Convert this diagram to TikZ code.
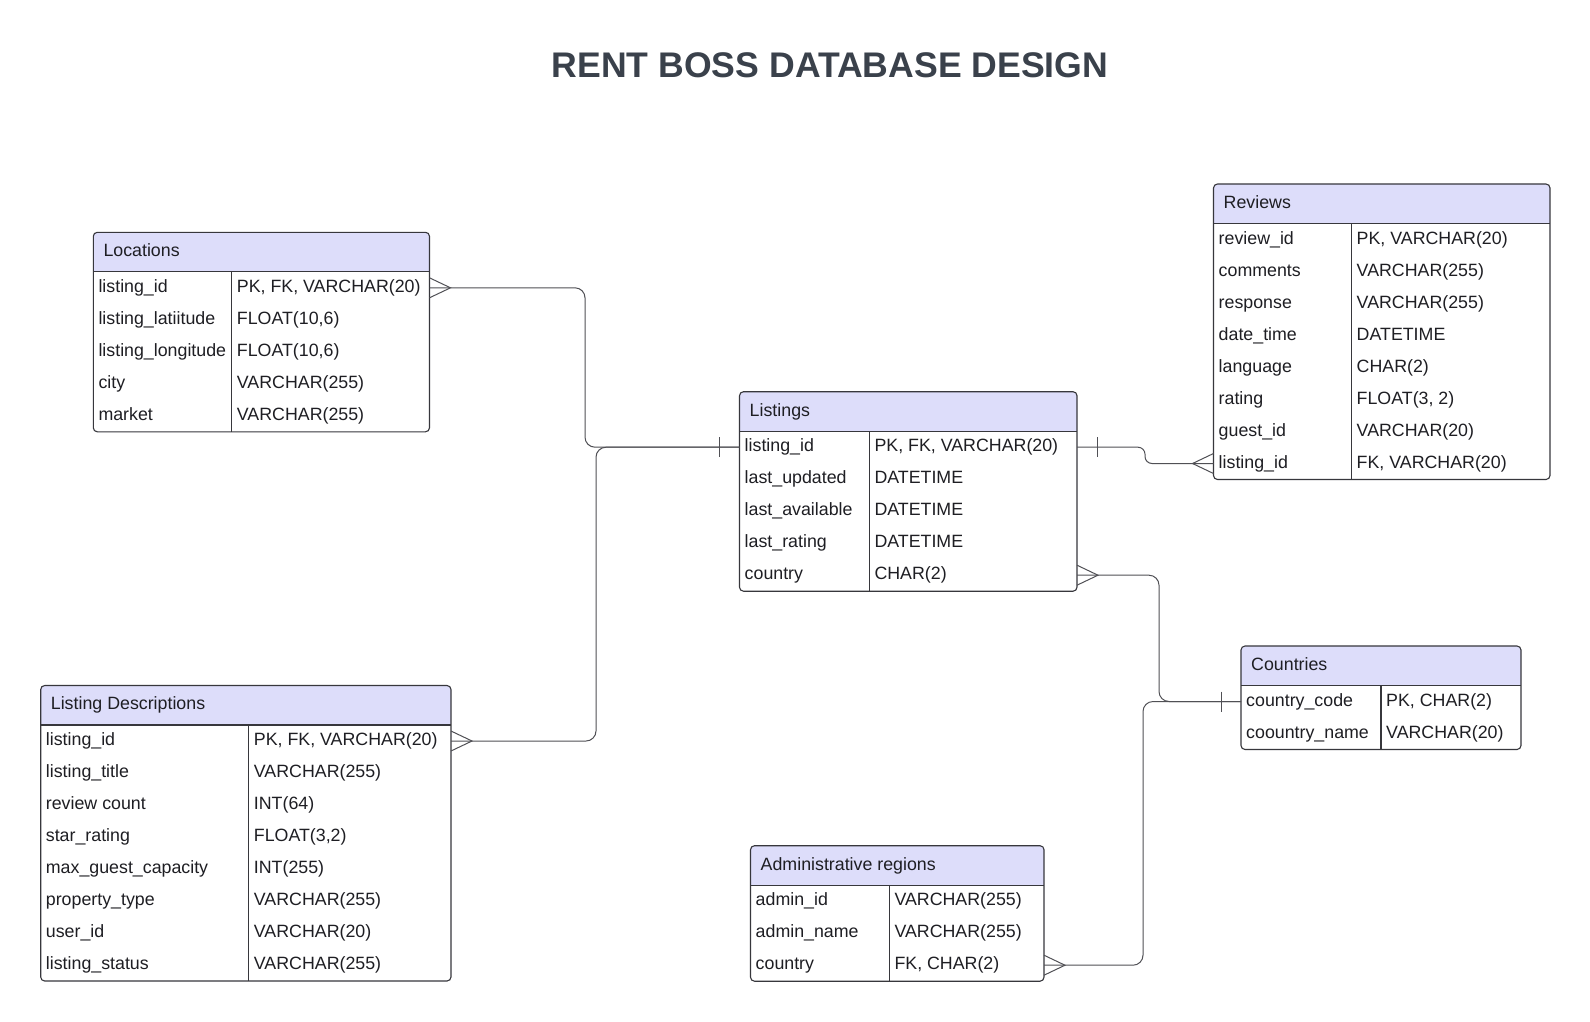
\documentclass[tikz,border=0pt]{standalone}
\usepackage{fontspec}
\setmainfont{Liberation Sans}
\usetikzlibrary{calc}
\definecolor{hdrfill}{RGB}{221,221,250}
\definecolor{bordc}{RGB}{55,55,60}
\definecolor{txtc}{RGB}{30,30,35}
\definecolor{linkc}{RGB}{80,80,85}
\definecolor{titlec}{RGB}{58,65,75}
\tikzset{
  tabtxt/.style={font=\fontsize{17.8}{20}\selectfont, text=txtc, inner sep=0pt, anchor=base west},
  tabline/.style={draw=bordc, line width=1.1pt},
  link/.style={draw=linkc, line width=1pt, rounded corners=10},
  cardmark/.style={draw=linkc, line width=1pt},
}
% #1 id, #2 title, #3 left, #4 top, #5 right, #6 divider, #7 rows count, #8 rows
\newcommand\erdtab[8]{%
  \pgfmathsetmacro\erdB{#4+39.5+32*#7}
  \begin{scope}
    \clip[rounded corners=4] (#3,#4) rectangle (#5,\erdB);
    \fill[white] (#3,#4) rectangle (#5,\erdB);
    \fill[hdrfill] (#3,#4) rectangle (#5,#4+39.5);
  \end{scope}
  \draw[tabline,rounded corners=4] (#3,#4) rectangle (#5,\erdB);
  \draw[tabline] (#3,#4+39.5) -- (#5,#4+39.5);
  \draw[tabline] (#6,#4+39.5) -- (#6,\erdB);
  \node[tabtxt] (#1-h) at (#3+10,#4+19.75+4.6) {#2};
  \foreach[count=\i] \k/\v in {#8}{
    \coordinate (#1-\i-w) at (#3,{#4+39.5+32*(\i-0.5)});
    \coordinate (#1-\i-e) at (#5,{#4+39.5+32*(\i-0.5)});
    \node[tabtxt] (#1-\i-k) at ($(#1-\i-w)+(5,4.6)$) {\k};
    \node[tabtxt] (#1-\i-v) at ({#6+5},{#4+39.5+32*(\i-0.5)+4.6}) {\v};
  }
}
\newcommand\crowE[1]{\draw[cardmark] ($(#1)+(0,-10)$) -- ($(#1)+(21,0)$) -- ($(#1)+(0,10)$);}
\newcommand\crowW[1]{\draw[cardmark] ($(#1)+(0,-10)$) -- ($(#1)+(-21,0)$) -- ($(#1)+(0,10)$);}
\newcommand\barmark[2]{\draw[cardmark] ($(#1)+(#2,-10)$) -- ($(#1)+(#2,10)$);}
\begin{document}
\begin{tikzpicture}[x=1pt,y=-1pt]
\useasboundingbox[fill=white] (0,0) rectangle (1590,1021);
\node[font=\fontsize{35.6}{40}\selectfont\bfseries, text=titlec, inner sep=0pt, anchor=base] (title) at (830,77) {RENT BOSS DATABASE DESIGN};

\erdtab{loc}{Locations}{93.3}{232.3}{429.5}{231.7}{5}{%
  listing\_id/{PK, FK, VARCHAR(20)},
  listing\_latiitude/{FLOAT(10,6)},
  listing\_longitude/{FLOAT(10,6)},
  city/{VARCHAR(255)},
  market/{VARCHAR(255)}}

\erdtab{lst}{Listings}{739.5}{391.7}{1077}{869.3}{5}{%
  listing\_id/{PK, FK, VARCHAR(20)},
  last\_updated/{DATETIME},
  last\_available/{DATETIME},
  last\_rating/{DATETIME},
  country/{CHAR(2)}}

\erdtab{rev}{Reviews}{1213.5}{184}{1550}{1351.5}{8}{%
  review\_id/{PK, VARCHAR(20)},
  comments/{VARCHAR(255)},
  response/{VARCHAR(255)},
  date\_time/{DATETIME},
  language/{CHAR(2)},
  rating/{FLOAT(3, 2)},
  guest\_id/{VARCHAR(20)},
  listing\_id/{FK, VARCHAR(20)}}

\erdtab{cty}{Countries}{1241}{646}{1521}{1381}{2}{%
  country\_code/{PK, CHAR(2)},
  coountry\_name/{VARCHAR(20)}}

\erdtab{ld}{Listing Descriptions}{40.7}{685.5}{451}{248.7}{8}{%
  listing\_id/{PK, FK, VARCHAR(20)},
  listing\_title/{VARCHAR(255)},
  review count/{INT(64)},
  star\_rating/{FLOAT(3,2)},
  max\_guest\_capacity/{INT(255)},
  property\_type/{VARCHAR(255)},
  user\_id/{VARCHAR(20)},
  listing\_status/{VARCHAR(255)}}

\erdtab{adm}{Administrative regions}{750.5}{845.7}{1044}{889.3}{3}{%
  admin\_id/{VARCHAR(255)},
  admin\_name/{VARCHAR(255)},
  country/{FK, CHAR(2)}}

% bend columns
\coordinate (jA) at (585,0);
\coordinate (jB) at (596,0);
\coordinate (jC) at (1145,0);
\coordinate (jD) at (1159,0);
\coordinate (jE) at (1143,0);

% connectors
\draw[link] (loc-1-e) -| (jA |- lst-1-w) -- (lst-1-w);
\draw[link] (ld-1-e) -| (jB |- lst-1-w) -- (lst-1-w);
\draw[link, rounded corners=7] (lst-1-e) -| (jC |- rev-8-w) -- (rev-8-w);
\draw[link] (lst-5-e) -| (jD |- cty-1-w) -- (cty-1-w);
\draw[link] (adm-3-e) -| (jE |- cty-1-w) -- (cty-1-w);

% cardinality marks
\crowE{loc-1-e}
\crowE{ld-1-e}
\crowE{lst-5-e}
\crowE{adm-3-e}
\crowW{rev-8-w}
\barmark{lst-1-w}{-20}
\barmark{lst-1-e}{20.5}
\barmark{cty-1-w}{-20}
\end{tikzpicture}
\end{document}
